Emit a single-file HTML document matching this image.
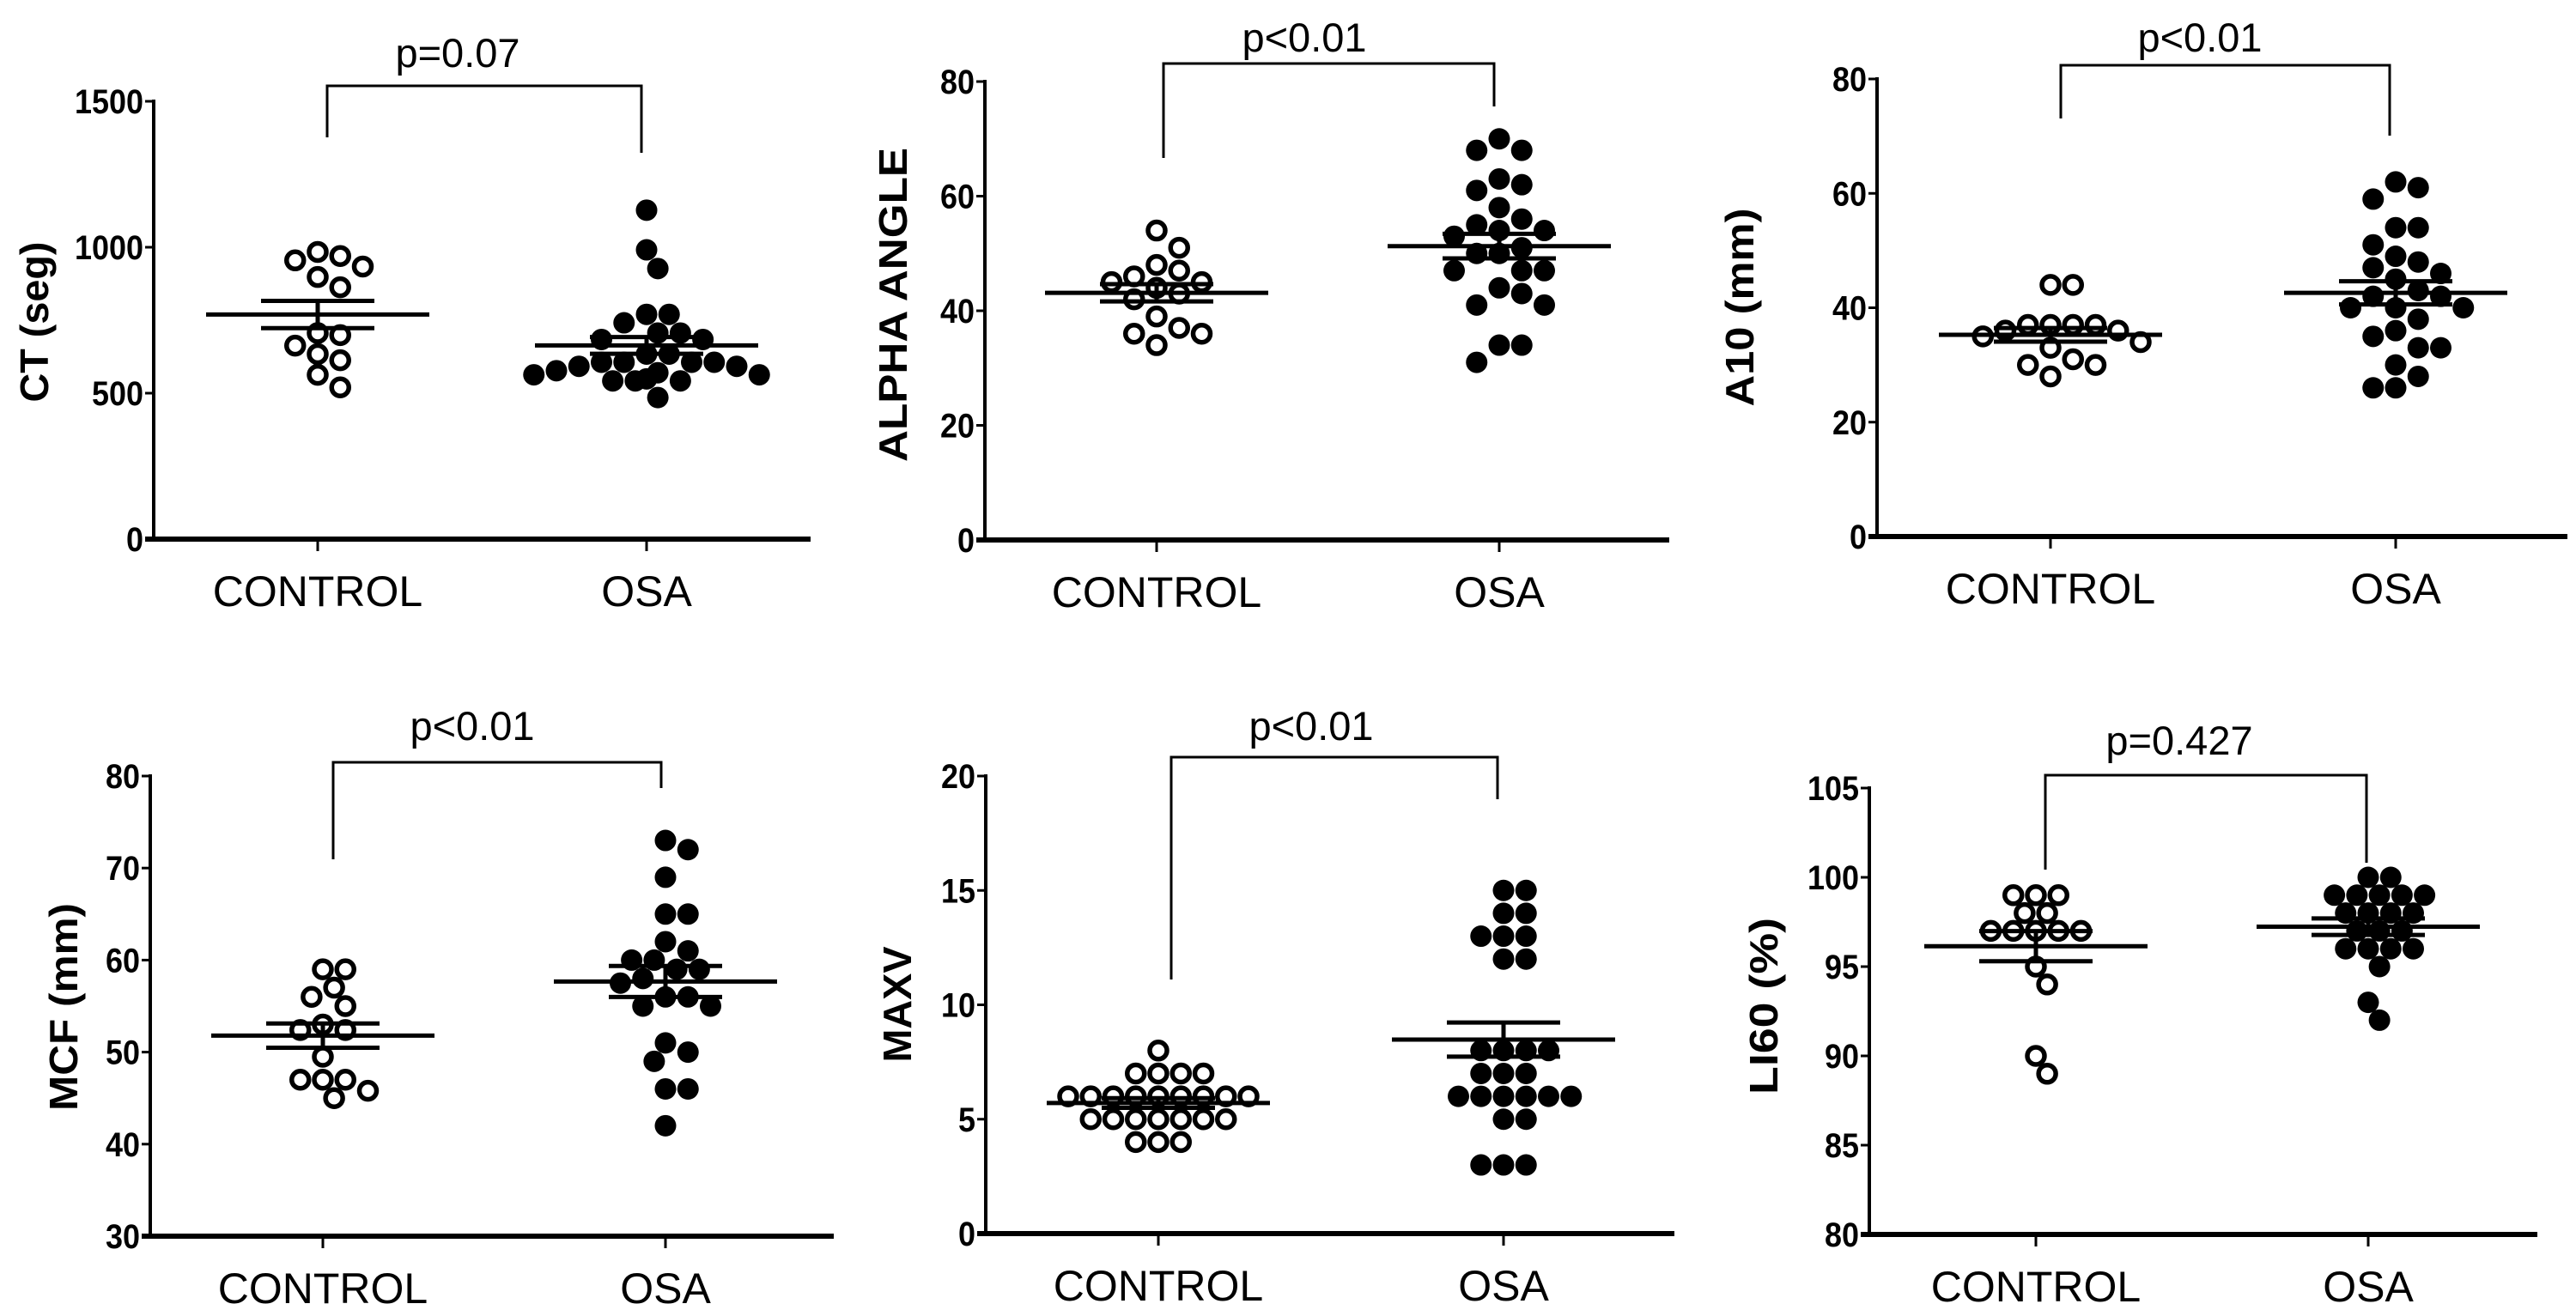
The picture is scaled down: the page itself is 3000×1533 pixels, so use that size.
<!DOCTYPE html>
<html><head><meta charset="utf-8"><style>
html,body{margin:0;padding:0;background:#fff;}
svg{display:block;font-family:"Liberation Sans",sans-serif;}
</style></head><body>
<svg id="fig" width="3000" height="1533" viewBox="0 0 3000 1533"></svg>
<script>
// ---- data ----
const categories = ["CONTROL", "OSA"];
const pLabels = ["p=0.07", "p<0.01", "p<0.01", "p<0.01", "p<0.01", "p=0.427"];
const yTitles = ["CT (seg)", "ALPHA ANGLE", "A10 (mm)", "MCF (mm)", "MAXV", "LI60 (%)"];
const ticks1 = [0, 500, 1000, 1500];
const ticks2 = [0, 20, 40, 60, 80];
const ticks3 = [0, 20, 40, 60, 80];
const ticks4 = [30, 40, 50, 60, 70, 80];
const ticks5 = [0, 5, 10, 15, 20];
const ticks6 = [80, 85, 90, 95, 100, 105];
const ctControl = [970, 934, 955, 984, 898, 863, 706, 699, 663, 613, 634, 563, 520];
const ctOsa = [1127, 991, 927, 770, 770, 741, 706, 706, 684, 684, 634, 606, 606, 592, 592, 634, 606, 606, 570, 563, 542, 549, 542, 542, 563, 577, 485];
const alphaControl = [54, 51, 47, 48, 46, 45, 45, 44, 43, 42, 39, 37, 36, 36, 34];
const alphaOsa = [70, 68, 68, 62, 63, 61, 58, 55, 56, 51, 54, 53, 54, 50, 50, 47, 47, 47, 44, 43, 41, 41, 34, 34, 31];
const a10Control = [44, 44, 37, 37, 36, 37, 36, 35, 34, 33, 30, 28, 30, 31, 37];
const a10Osa = [62, 61, 59, 54, 54, 51, 49, 47, 48, 46, 45, 43, 42, 40, 40, 40, 38, 36, 35, 33, 33, 30, 28, 26, 26, 42];
const mcfControl = [59, 59, 57, 56, 55, 52.4, 53, 52.4, 49.5, 47, 47, 47, 45.8, 45];
const mcfOsa = [73, 72, 69, 65, 65, 62, 61, 60, 60, 59, 59, 58, 57.5, 56, 56, 55, 55, 51, 50, 49, 46, 46, 42];
const maxvControl = [8, 7, 7, 7, 7, 6, 6, 6, 6, 6, 6, 6, 6, 6, 5, 5, 5, 5, 5, 5, 5, 4, 4, 4];
const maxvOsa = [15, 15, 14, 14, 13, 13, 13, 12, 12, 8, 8, 8, 8, 7, 7, 7, 6, 6, 6, 6, 6, 6, 5, 5, 3, 3, 3];
const li60Control = [99, 99, 99, 98, 98, 97, 97, 97, 97, 97, 95, 94, 90, 89];
const li60Osa = [100, 100, 99, 99, 99, 99, 99, 98, 98, 98, 98, 97, 97, 97, 96, 96, 96, 96, 95, 93, 92];

// ---- layout ----
const panels = [
 {ax:179, y0:628, y1:118, xEnd:944, cx:[370,753], ticks:ticks1, br:{l:381,r:747,top:100,lb:160,rb:178}, px:533, py:78, tx:40, ty:375, tl:187, c:ctControl, o:ctOsa},
 {ax:1147, y0:629, y1:95, xEnd:1944, cx:[1347,1746], ticks:ticks2, br:{l:1355,r:1740,top:74,lb:184,rb:124}, px:1519, py:60, tx:1040, ty:355, tl:366, c:alphaControl, o:alphaOsa},
 {ax:2186, y0:625, y1:92, xEnd:2990, cx:[2388,2790], ticks:ticks3, br:{l:2400,r:2783,top:76,lb:138,rb:158}, px:2562, py:60, tx:2026, ty:358, tl:231, c:a10Control, o:a10Osa},
 {ax:175, y0:1440, y1:904, xEnd:971, cx:[376,775], ticks:ticks4, br:{l:388,r:770,top:888,lb:1001,rb:918}, px:550, py:862, tx:74, ty:1173, tl:242, c:mcfControl, o:mcfOsa},
 {ax:1148, y0:1437, y1:904, xEnd:1950, cx:[1349,1751], ticks:ticks5, br:{l:1364,r:1744,top:882,lb:1141,rb:931}, px:1527, py:862, tx:1045, ty:1170, tl:135, c:maxvControl, o:maxvOsa},
 {ax:2177, y0:1438, y1:918, xEnd:2955, cx:[2371,2758], ticks:ticks6, br:{l:2382,r:2756,top:903,lb:1013,rb:1005}, px:2538, py:879, tx:2054, ty:1172, tl:206, c:li60Control, o:li60Osa}
];

const NS = "http://www.w3.org/2000/svg";
const svg = document.getElementById("fig");
function mk(tag, attrs, parent) {
  const e = document.createElementNS(NS, tag);
  for (const k in attrs) e.setAttribute(k, attrs[k]);
  (parent || svg).appendChild(e);
  return e;
}
function swarm(ys, r) {
  const idx = ys.map((y, i) => i).sort((a, b) => ys[a] - ys[b]);
  const placed = []; const xs = new Array(ys.length).fill(0);
  const d = 2 * r;
  idx.forEach(i => {
    const cands = [0];
    for (let k = 1; k < 12; k++) { cands.push(k * r * 1.05, -k * r * 1.05); }
    for (const c of cands) {
      let ok = true;
      for (const p of placed) {
        const dx = c - p.x, dy = ys[i] - p.y;
        if (dx * dx + dy * dy < d * d * 0.92) { ok = false; break; }
      }
      if (ok) { xs[i] = c; placed.push({x: c, y: ys[i]}); break; }
    }
  });
  return xs;
}

panels.forEach((P, pi) => {
  const g = mk("g", {});
  
  
  const tMin = P.ticks[0], tMax = P.ticks[P.ticks.length - 1];
  const yS = v => P.y0 + (v - tMin) / (tMax - tMin) * (P.y1 - P.y0);

  const ya = mk("line", {x1:P.ax, y1:P.y1 - 2, x2:P.ax, y2:P.y0, stroke:"#000", "stroke-width":4}, g);
  
  
  const xa = mk("line", {x1:P.ax - 10, y1:P.y0, x2:P.xEnd, y2:P.y0, stroke:"#000", "stroke-width":6}, g);
  
  
  P.ticks.forEach(t => {
    const y = yS(t);
    mk("line", {x1:P.ax - 10, y1:y, x2:P.ax, y2:y, stroke:"#000", "stroke-width":3}, g);
    const s = String(t);
    const tl = mk("text", {x:P.ax - 12, y:y + 14, "text-anchor":"end", "font-size":40, "font-weight":"bold", textLength:s.length * 20, lengthAdjust:"spacingAndGlyphs"}, g);
    tl.textContent = s;
    
    
  });
  const yt = mk("text", {x:P.tx, y:P.ty, transform:`rotate(-90 ${P.tx} ${P.ty})`, "text-anchor":"middle", "dominant-baseline":"central", "font-size":46, "font-weight":"bold", textLength:P.tl, lengthAdjust:"spacingAndGlyphs"}, g);
  yt.textContent = yTitles[pi];
  
  
  categories.forEach((c, ci) => {
    const x = P.cx[ci];
    mk("line", {x1:x, y1:P.y0, x2:x, y2:P.y0 + 14, stroke:"#000", "stroke-width":3}, g);
    const cl = mk("text", {x:x, y:P.y0 + 78, "text-anchor":"middle", "font-size":50}, g);
    cl.textContent = c;
    
    
  });
  const b = P.br;
  const bp = mk("path", {d:`M${b.l},${b.lb} L${b.l},${b.top} L${b.r},${b.top} L${b.r},${b.rb}`, fill:"none", stroke:"#000", "stroke-width":3}, g);
  
  
  const pt = mk("text", {x:P.px, y:P.py, "text-anchor":"middle", "font-size":47}, g);
  pt.textContent = pLabels[pi];
  
  

  [P.c, P.o].forEach((vals, gi) => {
    const ys = vals.map(yS);
    const xs = swarm(ys, 12.5);
    vals.forEach((v, i) => {
      const cEl = gi === 0
        ? mk("circle", {cx:P.cx[gi] + xs[i], cy:ys[i], r:10, fill:"#fff", stroke:"#000", "stroke-width":5.5}, g)
        : mk("circle", {cx:P.cx[gi] + xs[i], cy:ys[i], r:12.5, fill:"#000"}, g);
      
      
    });
    const n = vals.length;
    const m = vals.reduce((a, b) => a + b, 0) / n;
    const sd = Math.sqrt(vals.reduce((a, b) => a + (b - m) * (b - m), 0) / (n - 1));
    const se = sd / Math.sqrt(n);
    const x = P.cx[gi];
    const ml = mk("line", {x1:x - 130, y1:yS(m), x2:x + 130, y2:yS(m), stroke:"#000", "stroke-width":5}, g);
    
    
    const eb = mk("path", {d:`M${x-66},${yS(m+se)} H${x+66} M${x-66},${yS(m-se)} H${x+66} M${x},${yS(m+se)} V${yS(m-se)}`, stroke:"#000", "stroke-width":5, fill:"none"}, g);
    
    
  });
});
</script>
</body></html>
